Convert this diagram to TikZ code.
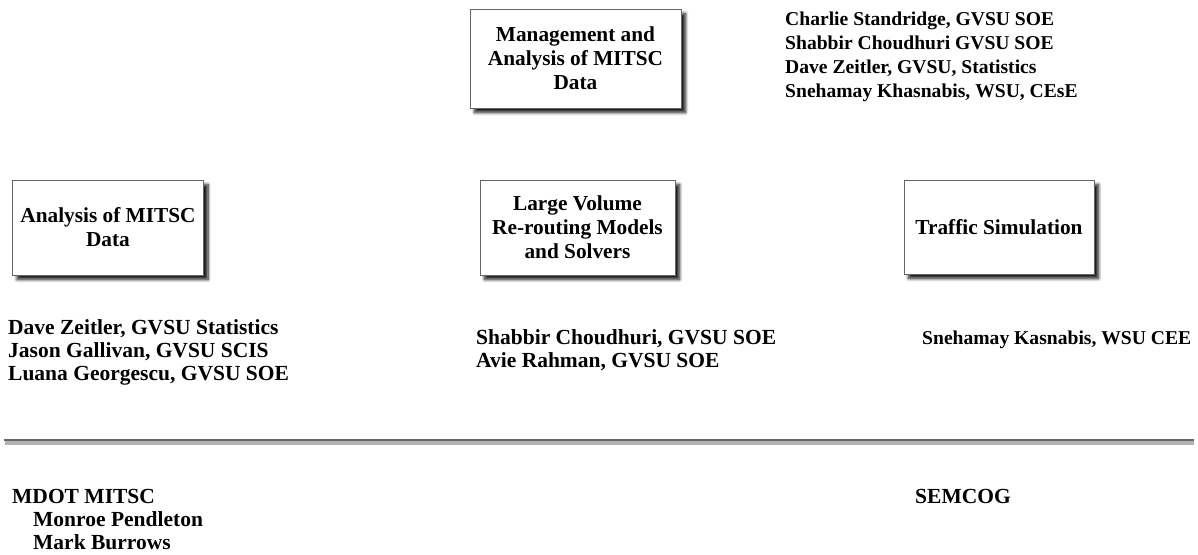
\documentclass[tikz,border=0pt]{standalone}
\usepackage{fontspec}
\setmainfont{Liberation Serif}
\usetikzlibrary{shadows.blur}
\tikzset{
  box/.style={draw=gray!80!black, line width=0.8pt, fill=white, align=center,
    font=\fontsize{21.3}{24}\selectfont\bfseries, inner sep=0pt,
    blur shadow={shadow xshift=4.5pt, shadow yshift=-4.5pt, shadow blur radius=3pt, shadow blur steps=8, shadow opacity=90}},
  txt/.style={anchor=base west, align=left, inner sep=0pt,
    font=\fontsize{21.5}{23}\selectfont\bfseries},
  txts/.style={txt, font=\fontsize{19.6}{24}\selectfont\bfseries}
}
\begin{document}
\begin{tikzpicture}[x=1pt,y=-1pt]
\useasboundingbox (0,0) rectangle (1198,554);
\node[box, minimum width=211pt, minimum height=99pt] (mgmt) at (575.5,58.5) {Management and\\Analysis of MITSC\\Data};
\node[box, minimum width=191pt, minimum height=95pt] (anal) at (108,227.5) {Analysis of MITSC\\Data};
\node[box, minimum width=195pt, minimum height=95pt] (large) at (577.5,227.5) {Large Volume\\Re-routing Models\\and Solvers};
\node[box, minimum width=190pt, minimum height=94pt] (traffic) at (999,227) {Traffic Simulation};
\node[txts] (t1) at (785,97) {Charlie Standridge, GVSU SOE\\Shabbir Choudhuri GVSU SOE\\Dave Zeitler, GVSU, Statistics\\Snehamay Khasnabis, WSU, CEsE};
\node[txt] (t2) at (8,380) {Dave Zeitler, GVSU Statistics\\Jason Gallivan, GVSU SCIS\\Luana Georgescu, GVSU SOE};
\node[txt] (t3) at (476,367) {Shabbir Choudhuri, GVSU SOE\\Avie Rahman, GVSU SOE};
\node[txts] (t4) at (922,344) {Snehamay Kasnabis, WSU CEE};
\node[txt] (t5) at (12,503) {MDOT MITSC};
\node[txt] (t6) at (33,549) {Monroe Pendleton\\Mark Burrows};
\node[txt] (t7) at (915,503) {SEMCOG};
\coordinate (la) at (4,440);
\coordinate (lb) at (1194,440);
\fill[black!30] (5,440.5) rectangle (1194,444.5);
\draw[black!60, line width=1.5pt] (la) -- (lb);
\end{tikzpicture}
\end{document}
